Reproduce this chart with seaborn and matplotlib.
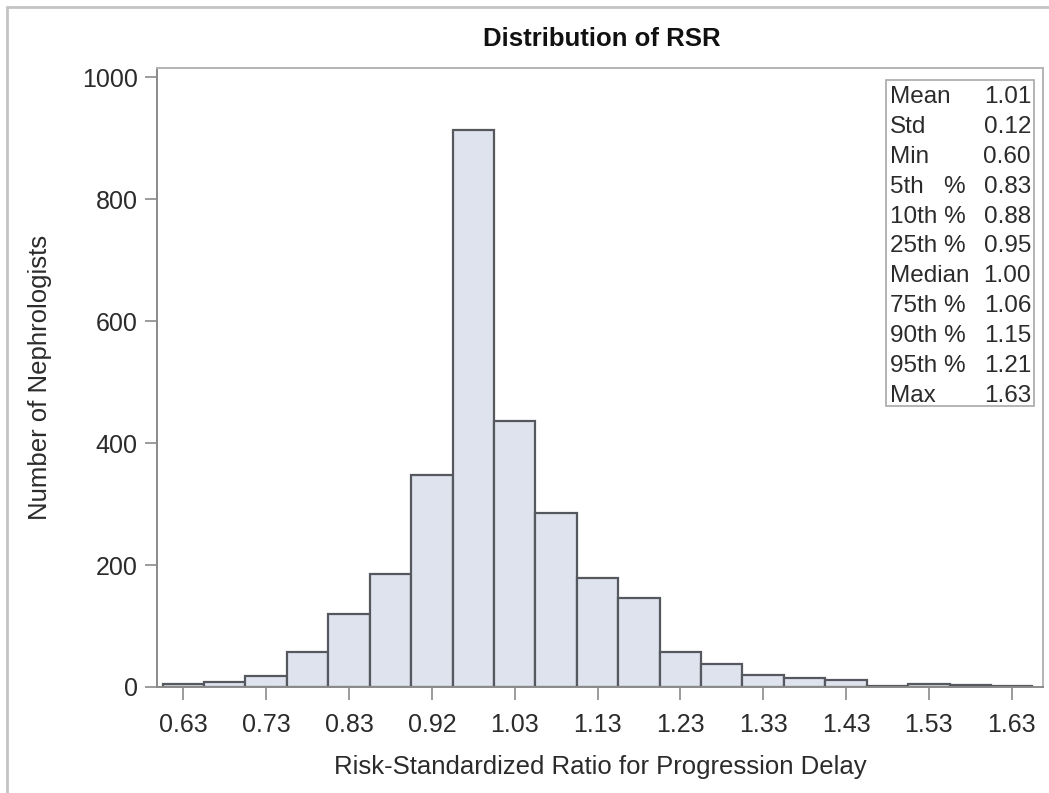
import numpy as np
import pandas as pd
import matplotlib
matplotlib.use("Agg")
import matplotlib.pyplot as plt
import seaborn as sns
from matplotlib.patches import Rectangle
from matplotlib.lines import Line2D

# histogram data (bin midpoints and counts)
bin_mid = [0.625, 0.675, 0.725, 0.775, 0.825, 0.875, 0.925, 0.975, 1.025, 1.075, 1.125,
           1.175, 1.225, 1.275, 1.325, 1.375, 1.425, 1.475, 1.525, 1.575, 1.625]
counts = [5, 9, 18, 57, 119, 185, 348, 914, 436, 285, 179,
          146, 58, 37, 19, 15, 11, 2, 5, 3, 1]
tick_labels = ["0.63", "0.73", "0.83", "0.92", "1.03", "1.13", "1.23", "1.33", "1.43", "1.53", "1.63"]
y_ticks = [0, 200, 400, 600, 800, 1000]

stat_names = ["Mean", "Std", "Min", "5th   %", "10th %", "25th %", "Median", "75th %", "90th %", "95th %", "Max"]
stat_values = ["1.01", "0.12", "0.60", "0.83", "0.88", "0.95", "1.00", "1.06", "1.15", "1.21", "1.63"]

df = pd.DataFrame({"rsr": bin_mid, "n": counts})

sns.set_style("white")
plt.rcParams["font.family"] = ["Liberation Sans", "DejaVu Sans"]

W, H = 1049, 793
fig = plt.figure(figsize=(W / 100, H / 100), dpi=100)
ax = fig.add_axes([157 / W, 1 - 687 / H, (1043 - 157) / W, (687 - 68) / H])

sns.histplot(data=df, x="rsr", weights="n", binwidth=0.05, binrange=(0.6, 1.65),
             color="#dfe3ed", edgecolor="#55585e", linewidth=1.6, alpha=1, ax=ax)

ax.set_xlim(0.5932, 1.6628)
ax.set_ylim(0, 1015)
ax.set_xticks(bin_mid[::2])
ax.set_xticklabels(tick_labels)
ax.set_yticks(y_ticks)
ax.set_yticklabels([str(v) for v in y_ticks])
ax.tick_params(axis="both", direction="out", length=9, width=1.2, color="#8a8a8a",
               labelsize=18, labelcolor="#2b2b2b")
ax.tick_params(axis="x", pad=10)
ax.tick_params(axis="y", pad=5)
ax.xaxis.set_ticks_position("bottom")
ax.yaxis.set_ticks_position("left")

for side in ["left", "bottom"]:
    ax.spines[side].set_color("#8a8a8a")
    ax.spines[side].set_linewidth(1.4)
for side in ["top", "right"]:
    ax.spines[side].set_visible(True)
    ax.spines[side].set_color("#b4b4b4")
    ax.spines[side].set_linewidth(1.4)

ax.set_xlabel("Risk-Standardized Ratio for Progression Delay", fontsize=18.5, color="#2b2b2b", labelpad=13)
ax.set_ylabel("")
fig.text(40 / W, 1 - 377 / H, "Number of Nephrologists", rotation=90, ha="center", va="center",
         fontsize=18.5, color="#2b2b2b")

fig.text(602 / W, 1 - 39 / H, "Distribution of RSR", ha="center", va="center",
         fontsize=18.5, fontweight="bold", color="#111111")

# stats inset table
fig.patches.append(Rectangle((886 / W, 1 - 406 / H), (1034 - 886) / W, (406 - 80) / H,
                             transform=fig.transFigure, facecolor="white", edgecolor="#a8a8a8",
                             linewidth=1.2, zorder=5))
for i, (name, val) in enumerate(zip(stat_names, stat_values)):
    yy = 1 - (97 + 29.9 * i) / H
    fig.text(890 / W, yy, name, ha="left", va="center", fontsize=17.5, color="#2b2b2b", zorder=6)
    fig.text(1031 / W, yy, val, ha="right", va="center", fontsize=17.5, color="#2b2b2b", zorder=6)

# page frame lines
fig.add_artist(Line2D([7 / W, 7 / W], [1 - 7 / H, 0], transform=fig.transFigure, color="#c4c4c4", linewidth=2))
fig.add_artist(Line2D([7 / W, 1], [1 - 7 / H, 1 - 7 / H], transform=fig.transFigure, color="#c4c4c4", linewidth=2))

fig.savefig("out.png", dpi=100)
